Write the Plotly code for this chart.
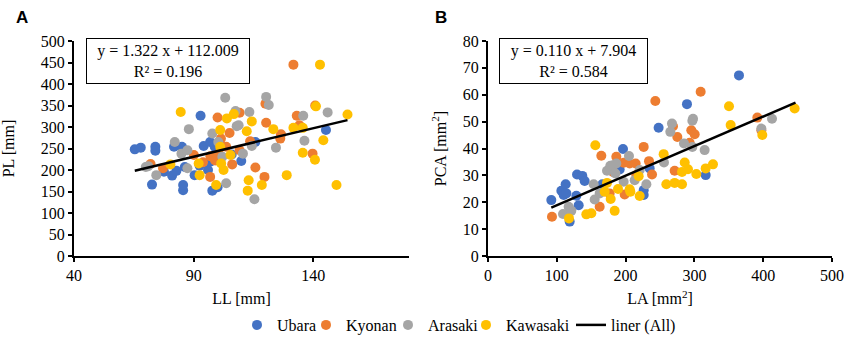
import plotly.graph_objects as go

# ---------- Panel A: LL vs PL ----------
ub_LL = [65.4, 67.9, 74.0, 74.0, 72.6, 77.6, 81.0, 82.8, 81.8, 85.1, 85.6, 85.6, 86.3, 90.4, 92.5, 92.9, 94.2, 96.0, 96.9, 96.9, 97.8, 100.0, 98.8, 109.9, 115.8, 145.3, 105.9]
ub_PL = [248, 252, 254, 245, 166, 196, 187, 198, 254, 254, 153, 165, 207, 188, 210, 326, 256, 200, 265, 219, 152, 160, 254, 221, 265, 293, 236]

ky_LL = [72.0, 77.2, 90.1, 93.9, 96.9, 100.0, 101.4, 103.6, 105.0, 106.1, 109.2, 109.2, 97.0, 98.5, 100.5, 99.0, 115.8, 119.6, 120.3, 120.0, 126.5, 126.2, 131.7, 133.1, 134.2, 139.7, 140.8, 113.6]
ky_PL = [214, 204, 235, 218, 184, 322, 273, 254, 286, 213, 333, 246, 232, 228, 238, 222, 206, 184, 310, 354, 283, 273, 445, 326, 304, 238, 350, 267]

ar_LL = [71.0, 74.4, 82.1, 84.9, 87.4, 88.0, 87.4, 97.8, 100.3, 103.2, 103.6, 107.5, 108.0, 108.8, 110.6, 113.3, 114.3, 115.4, 120.3, 121.4, 124.4, 135.8, 136.3, 146.0, 102.0, 70.0]
ar_PL = [209, 188, 265, 238, 246, 295, 204, 285, 265, 368, 169, 337, 302, 304, 238, 335, 256, 132, 370, 351, 252, 326, 268, 334, 231, 207]

kw_LL = [80.3, 84.6, 92.1, 92.5, 99.4, 101.1, 101.1, 102.5, 101.5, 103.9, 105.4, 106.8, 112.2, 113.0, 112.6, 114.3, 118.5, 123.3, 128.9, 131.7, 135.6, 135.6, 142.8, 141.1, 140.7, 144.2, 149.7, 154.3]
kw_PL = [213, 335, 215, 188, 165, 293, 254, 200, 215, 320, 235, 330, 290, 176, 152, 313, 165, 295, 188, 298, 298, 240, 445, 348, 224, 269, 165, 329]

fitA_slope, fitA_icpt = 1.322, 112.009
fitA_x = [65.4, 154.3]

# ---------- Panel B: LA vs PCA ----------
ub_LA = [92.0, 106.6, 110.0, 112.9, 113.9, 129.4, 137.1, 140.5, 128.4, 131.8, 118.7, 166.2, 189.0, 196.2, 191.4, 226.3, 235.0, 248.0, 289.2, 364.8, 316.4, 226.3]
ub_PCA = [20.8, 24.3, 22.7, 26.7, 23.3, 30.3, 29.8, 27.9, 22.4, 18.9, 12.8, 26.7, 33.2, 39.8, 32.2, 22.7, 32.6, 47.7, 56.5, 67.2, 30.1, 24.5]

ky_LA = [93.0, 162.3, 164.7, 186.5, 197.2, 198.6, 205.9, 214.6, 226.3, 234.0, 238.4, 243.2, 268.9, 275.2, 271.3, 293.1, 295.5, 300.4, 309.1, 391.5, 397.3, 176.8, 215.6, 181.7]
ky_PCA = [14.6, 18.3, 37.3, 36.9, 34.7, 22.9, 34.4, 34.4, 40.6, 35.3, 30.3, 57.7, 48.3, 44.3, 31.7, 42.1, 46.8, 45.3, 61.1, 51.5, 46.8, 23.3, 30.1, 31.3]

ar_LA = [109.0, 117.2, 121.1, 153.6, 155.0, 162.3, 173.0, 177.8, 181.7, 185.1, 186.5, 197.2, 204.9, 213.2, 220.5, 230.2, 255.8, 265.0, 267.4, 284.9, 297.0, 297.0, 298.0, 314.9, 397.3, 412.8]
ar_PCA = [15.6, 18.3, 16.8, 26.7, 21.0, 23.3, 31.7, 33.6, 33.8, 30.7, 34.4, 27.6, 37.2, 28.2, 32.0, 26.7, 34.8, 46.2, 49.3, 41.9, 40.6, 50.3, 51.1, 39.4, 47.4, 51.1]

kw_LA = [117.7, 142.9, 150.2, 156.0, 169.6, 173.0, 178.3, 184.1, 189.0, 205.9, 206.9, 219.0, 220.5, 255.3, 259.2, 271.3, 282.0, 285.9, 282.0, 290.7, 302.8, 316.4, 327.0, 350.3, 352.7, 398.7, 445.7]
kw_PCA = [14.0, 15.5, 15.9, 41.2, 23.9, 27.2, 21.2, 16.8, 24.9, 24.8, 23.9, 29.7, 22.3, 37.9, 26.7, 27.2, 26.7, 34.8, 31.3, 32.3, 30.5, 32.6, 34.1, 55.7, 48.7, 45.0, 54.9]

fitB_slope, fitB_icpt = 0.110, 7.904
fitB_x = [92.0, 447.0]

names = ["Ubara", "Kyonan", "Arasaki", "Kawasaki"]
fit_name = "liner (All)"
colors = ["#4472C4", "#ED7D31", "#A5A5A5", "#FFC000"]

FONT = "Liberation Serif, Times New Roman, serif"

W, H = 845, 338
ML, MR, MT, MB = 74, 13, 41, 82
PW, PH = W - ML - MR, H - MT - MB

def px(xp):  # pixel -> paper x
    return (xp - ML) / PW

def py(yp):  # pixel -> paper y
    return (H - MB - yp) / PH

legend_ids = ["legend", "legend2", "legend3", "legend4", "legend5"]
legend_symbol_px = [257, 326, 408, 486, 591]

fig = go.Figure()

A_sets = [(ub_LL, ub_PL), (ky_LL, ky_PL), (ar_LL, ar_PL), (kw_LL, kw_PL)]
B_sets = [(ub_LA, ub_PCA), (ky_LA, ky_PCA), (ar_LA, ar_PCA), (kw_LA, kw_PCA)]

for i, ((x, y), n, c) in enumerate(zip(A_sets, names, colors)):
    fig.add_trace(go.Scatter(x=x, y=y, mode="markers", name=n,
                             marker=dict(color=c, size=10, line=dict(width=0)),
                             xaxis="x", yaxis="y", legend=legend_ids[i]))
fig.add_trace(go.Scatter(x=fitA_x, y=[fitA_slope * v + fitA_icpt for v in fitA_x],
                         mode="lines", name=fit_name, line=dict(color="black", width=2.5),
                         xaxis="x", yaxis="y", legend=legend_ids[4]))

for (x, y), n, c in zip(B_sets, names, colors):
    fig.add_trace(go.Scatter(x=x, y=y, mode="markers", name=n, showlegend=False,
                             marker=dict(color=c, size=10, line=dict(width=0)),
                             xaxis="x2", yaxis="y2"))
fig.add_trace(go.Scatter(x=fitB_x, y=[fitB_slope * v + fitB_icpt for v in fitB_x],
                         mode="lines", name=fit_name, showlegend=False,
                         line=dict(color="black", width=2.5),
                         xaxis="x2", yaxis="y2"))

axis_common = dict(showline=True, linecolor="black", linewidth=2, showgrid=False,
                   zeroline=False, ticks="outside", ticklen=4, tickwidth=1.5,
                   tickcolor="black", automargin=False,
                   tickfont=dict(family=FONT, size=16, color="black"),
                   title_font=dict(family=FONT, size=16, color="black"))

layout_legends = {}
for lid, mx in zip(legend_ids, legend_symbol_px):
    layout_legends[lid] = dict(orientation="h", x=px(mx - 20), xanchor="left",
                               y=py(325), yanchor="middle", itemwidth=30,
                               font=dict(family=FONT, size=16, color="black"),
                               bgcolor="rgba(0,0,0,0)", borderwidth=0)

fig.update_layout(
    width=W, height=H,
    margin=dict(l=ML, r=MR, t=MT, b=MB, autoexpand=False),
    paper_bgcolor="white", plot_bgcolor="white",
    font=dict(family=FONT, size=16, color="black"),
    xaxis=dict(domain=[0, px(409)], range=[40, 180], dtick=50, tick0=40,
               title=dict(text="LL [mm]", standoff=10), anchor="y", **axis_common),
    yaxis=dict(domain=[0, 1], range=[0, 500], dtick=50,
               title=dict(text="PL [mm]", standoff=24), anchor="x", **axis_common),
    xaxis2=dict(domain=[px(488), 1], range=[0, 500], dtick=100,
                title=dict(text="LA [mm<sup>2</sup>]", standoff=10), anchor="y2", **axis_common),
    yaxis2=dict(domain=[0, 1], range=[0, 80], dtick=10,
                title=dict(text="PCA [mm<sup>2</sup>]", standoff=12), anchor="x2", **axis_common),
    showlegend=True,
    annotations=[
        dict(text="<b>A</b>", x=px(14), y=py(18), xref="paper", yref="paper",
             xanchor="left", yanchor="middle", showarrow=False,
             font=dict(family="Liberation Sans, Arial, sans-serif", size=17, color="black")),
        dict(text="<b>B</b>", x=px(433), y=py(18), xref="paper", yref="paper",
             xanchor="left", yanchor="middle", showarrow=False,
             font=dict(family="Liberation Sans, Arial, sans-serif", size=17, color="black")),
        dict(text="y = 1.322 x + 112.009<br>R² = 0.196", x=px(167.5), y=py(60.5),
             xref="paper", yref="paper", xanchor="center", yanchor="middle",
             showarrow=False, bordercolor="black", borderwidth=1, borderpad=2,
             bgcolor="white", width=158, height=40,
             font=dict(family=FONT, size=16, color="black")),
        dict(text="y = 0.110 x + 7.904<br>R² = 0.584", x=px(573), y=py(60.5),
             xref="paper", yref="paper", xanchor="center", yanchor="middle",
             showarrow=False, bordercolor="black", borderwidth=1, borderpad=2,
             bgcolor="white", width=143, height=40,
             font=dict(family=FONT, size=16, color="black")),
    ],
    **layout_legends,
)

fig.write_html("out.html", config={"displayModeBar": False},
               post_script="document.body.style.margin='0';document.body.style.overflow='hidden';")
